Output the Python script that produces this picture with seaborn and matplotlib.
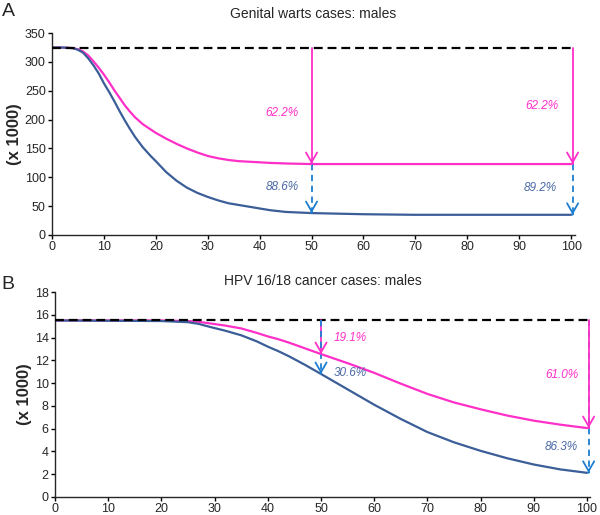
import pandas as pd
import numpy as np
import seaborn as sns
import matplotlib.pyplot as plt

# panel A: genital warts cases, males (x 1000)
years_a = [0, 2, 4, 5, 6, 7, 8, 9, 10, 11, 12, 13, 14, 15, 16, 17.5, 19, 20, 22, 24, 26, 28, 30,
           32, 34, 36, 38, 40, 42, 45, 50, 55, 60, 70, 80, 90, 100]
warts_girls = [325, 325, 324, 322, 318, 311, 301, 290, 278, 265, 251, 238, 225, 214, 204, 192, 183, 177,
               167, 158, 150, 143, 137, 133, 130, 128, 127, 126, 125, 124, 123, 123, 123, 123, 123, 123, 123]
warts_both = [325, 325, 324, 321, 316, 306, 294, 280, 263, 248, 232, 215, 199, 184, 170, 152, 137, 128,
              109, 94, 82, 73, 66, 60, 55, 52, 49, 46, 43, 40, 38, 37, 36, 35, 35, 35, 35]
baseline_a = 325

# panel B: HPV 16/18 cancer cases, males (x 1000)
years_b = [0, 20, 25, 27, 29, 32, 35, 38, 40, 42, 44, 47, 50, 55, 60, 65, 70, 75, 80, 85, 90, 95, 100]
cancer_girls = [15.5, 15.5, 15.45, 15.38, 15.25, 15.05, 14.8, 14.4, 14.1, 13.85, 13.55, 13.05, 12.55,
                11.75, 10.9, 9.95, 9.05, 8.3, 7.7, 7.15, 6.7, 6.35, 6.05]
cancer_both = [15.5, 15.45, 15.35, 15.2, 14.95, 14.6, 14.2, 13.65, 13.2, 12.8, 12.35, 11.6, 10.8,
               9.45, 8.1, 6.85, 5.7, 4.8, 4.05, 3.4, 2.85, 2.42, 2.12]
baseline_b = 15.5

# reductions shown on the arrows
labels_a = {50: ("62.2%", "88.6%"), 100: ("62.2%", "89.2%")}
labels_b = {50: ("19.1%", "30.6%"), 100: ("61.0%", "86.3%")}

pink = "#ff2fc8"
navy = "#3b5d98"
arrow_blue = "#1e7fd0"
text_blue = "#4a68a6"

sns.set_style("ticks")
plt.rcParams["font.family"] = ["Liberation Sans", "DejaVu Sans"]

fig = plt.figure(figsize=(6, 5.15), dpi=100)
ax_a = fig.add_axes([0.0867, 0.5437, 0.872, 0.392])
ax_b = fig.add_axes([0.0917, 0.035, 0.892, 0.398])

df_a = pd.DataFrame({"year": years_a * 2,
                     "cases": warts_girls + warts_both,
                     "group": ["girls"] * len(years_a) + ["both"] * len(years_a)})
df_b = pd.DataFrame({"year": years_b * 2,
                     "cases": cancer_girls + cancer_both,
                     "group": ["girls"] * len(years_b) + ["both"] * len(years_b)})

pal = {"girls": pink, "both": navy}
sns.lineplot(data=df_a, x="year", y="cases", hue="group", palette=pal,
             linewidth=1.6, legend=False, ax=ax_a)
sns.lineplot(data=df_b, x="year", y="cases", hue="group", palette=pal,
             linewidth=1.6, legend=False, ax=ax_b)


def arrow(ax, x, y0, y1, color, dashed, head_h, lw=1.3):
    ls = (0, (3.5, 2.5)) if dashed else "-"
    ax.plot([x, x], [y0, y1], color=color, lw=lw, linestyle=ls, zorder=4)
    ax.annotate("", xy=(x, y1), xytext=(x, y1 + head_h),
                arrowprops=dict(arrowstyle="->,head_length=0.7,head_width=0.4",
                                color=color, lw=lw), zorder=5)


# panel A arrows
ax_a.plot([0, 100.3], [baseline_a, baseline_a], color="black", lw=1.6,
          linestyle=(0, (4, 2.2)), zorder=3)
for xa in [50, 100.3]:
    arrow(ax_a, xa, baseline_a, warts_girls[-1], pink, False, 6)
    low = warts_both[years_a.index(50)] if xa == 50 else warts_both[-1]
    arrow(ax_a, xa, warts_girls[-1], low, arrow_blue, True, 6)

ax_a.text(47.5, 211, labels_a[50][0], color=pink, style="italic", fontsize=8.5, ha="right", va="center")
ax_a.text(47.5, 83, labels_a[50][1], color=text_blue, style="italic", fontsize=8.5, ha="right", va="center")
ax_a.text(94.3, 223, labels_a[100][0], color=pink, style="italic", fontsize=8.5, ha="center", va="center")
ax_a.text(94.1, 82, labels_a[100][1], color=text_blue, style="italic", fontsize=8.5, ha="center", va="center")

# panel B arrows
ax_b.plot([0, 100.3], [baseline_b, baseline_b], color="black", lw=1.6,
          linestyle=(0, (4, 2.2)), zorder=3)
i50 = years_b.index(50)
arrow(ax_b, 50, baseline_b, cancer_girls[i50], pink, False, 0.3)
arrow(ax_b, 50, baseline_b, cancer_both[i50], arrow_blue, True, 0.3)
arrow(ax_b, 100.3, cancer_girls[-1], cancer_both[-1], arrow_blue, True, 0.3)
ax_b.plot([100.3, 100.3], [baseline_b, cancer_girls[-1]], color=arrow_blue, lw=1.3,
          linestyle=(0, (3.5, 2.5)), zorder=4)
arrow(ax_b, 100.3, baseline_b, cancer_girls[-1], pink, False, 0.3)

ax_b.text(52.4, 14.0, labels_b[50][0], color=pink, style="italic", fontsize=8.5, ha="left", va="center")
ax_b.text(52.4, 10.86, labels_b[50][1], color=text_blue, style="italic", fontsize=8.5, ha="left", va="center")
ax_b.text(95.2, 10.7, labels_b[100][0], color=pink, style="italic", fontsize=8.5, ha="center", va="center")
ax_b.text(95.2, 4.36, labels_b[100][1], color=text_blue, style="italic", fontsize=8.5, ha="center", va="center")

# axes styling
ax_a.set_xlim(0, 100.8)
ax_a.set_ylim(0, 350)
ax_a.set_xticks(range(0, 101, 10))
ax_a.set_yticks(range(0, 351, 50))
ax_b.set_xlim(0, 100.6)
ax_b.set_ylim(0, 18)
ax_b.set_xticks(range(0, 101, 10))
ax_b.set_yticks(range(0, 19, 2))

for ax in [ax_a, ax_b]:
    sns.despine(ax=ax)
    ax.spines["left"].set_linewidth(1.0)
    ax.spines["bottom"].set_linewidth(1.0)
    ax.tick_params(labelsize=9, length=3, width=1.0, color="black", pad=1.5)
    ax.set_xlabel("")
    ax.set_ylabel("(x 1000)", fontsize=12, fontweight="bold", labelpad=2)

ax_a.set_title("Genital warts cases: males", fontsize=10, pad=11)
ax_b.set_title("HPV 16/18 cancer cases: males", fontsize=10, pad=5)

fig.text(0.003, 0.978, "A", fontsize=14, va="center", ha="left")
fig.text(0.003, 0.447, "B", fontsize=14, va="center", ha="left")

fig.savefig("out.png", dpi=100)
